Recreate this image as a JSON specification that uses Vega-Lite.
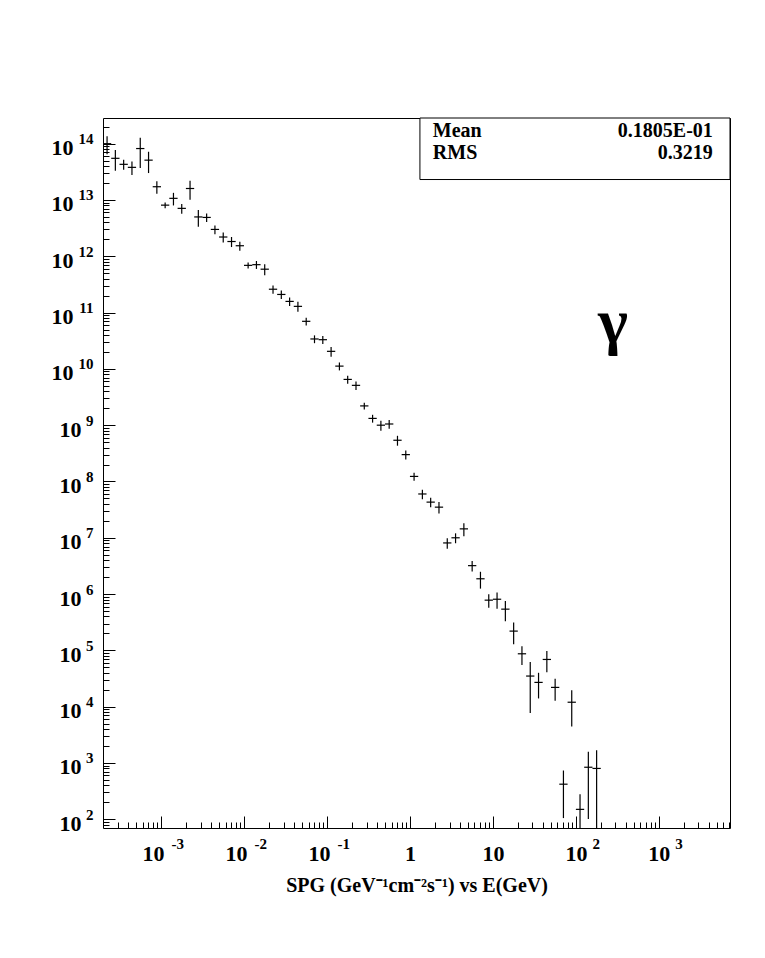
{
  "$schema": "https://vega.github.io/schema/vega-lite/v6.json",
  "width": 627,
  "height": 710,
  "autosize": "none",
  "padding": {"left": 103, "top": 118, "right": 35, "bottom": 130},
  "background": "white",
  "config": {
    "view": {"stroke": "black", "strokeWidth": 1},
    "axis": {"grid": false, "domain": false, "labelFlush": false, "labelOverlap": false, "labelBound": false}
  },
  "datasets": {
    "hist": [
      {"x": 2.239e-4, "xlo": 1.995e-4, "xhi": 2.512e-4, "y": 1.0e14, "ylo": 6.5e13, "yhi": 1.35e14},
      {"x": 2.818e-4, "xlo": 2.512e-4, "xhi": 3.162e-4, "y": 5.5e13, "ylo": 3.3e13, "yhi": 7.7e13},
      {"x": 3.548e-4, "xlo": 3.162e-4, "xhi": 3.981e-4, "y": 4.3e13, "ylo": 3.44e13, "yhi": 5.16e13},
      {"x": 4.467e-4, "xlo": 3.981e-4, "xhi": 5.012e-4, "y": 3.8e13, "ylo": 2.77e13, "yhi": 4.83e13},
      {"x": 5.623e-4, "xlo": 5.012e-4, "xhi": 6.310e-4, "y": 8.2e13, "ylo": 3.69e13, "yhi": 1.27e14},
      {"x": 7.079e-4, "xlo": 6.310e-4, "xhi": 7.943e-4, "y": 5.1e13, "ylo": 3.01e13, "yhi": 7.19e13},
      {"x": 8.913e-4, "xlo": 7.943e-4, "xhi": 1.0e-3, "y": 1.72e13, "ylo": 1.29e13, "yhi": 2.15e13},
      {"x": 1.122e-3, "xlo": 1.0e-3, "xhi": 1.259e-3, "y": 8.1e12, "ylo": 7.13e12, "yhi": 9.07e12},
      {"x": 1.413e-3, "xlo": 1.259e-3, "xhi": 1.585e-3, "y": 1.07e13, "ylo": 8.0e12, "yhi": 1.34e13},
      {"x": 1.778e-3, "xlo": 1.585e-3, "xhi": 1.995e-3, "y": 7.1e12, "ylo": 5.7e12, "yhi": 8.5e12},
      {"x": 2.239e-3, "xlo": 1.995e-3, "xhi": 2.512e-3, "y": 1.6e13, "ylo": 1.01e13, "yhi": 2.19e13},
      {"x": 2.818e-3, "xlo": 2.512e-3, "xhi": 3.162e-3, "y": 5.0e12, "ylo": 3.35e12, "yhi": 6.65e12},
      {"x": 3.548e-3, "xlo": 3.162e-3, "xhi": 3.981e-3, "y": 4.9e12, "ylo": 4.07e12, "yhi": 5.73e12},
      {"x": 4.467e-3, "xlo": 3.981e-3, "xhi": 5.012e-3, "y": 3.0e12, "ylo": 2.46e12, "yhi": 3.54e12},
      {"x": 5.623e-3, "xlo": 5.012e-3, "xhi": 6.310e-3, "y": 2.2e12, "ylo": 1.76e12, "yhi": 2.64e12},
      {"x": 7.079e-3, "xlo": 6.310e-3, "xhi": 7.943e-3, "y": 1.83e12, "ylo": 1.46e12, "yhi": 2.2e12},
      {"x": 8.913e-3, "xlo": 7.943e-3, "xhi": 1.0e-2, "y": 1.54e12, "ylo": 1.26e12, "yhi": 1.82e12},
      {"x": 1.122e-2, "xlo": 1.0e-2, "xhi": 1.259e-2, "y": 6.9e11, "ylo": 6.07e11, "yhi": 7.73e11},
      {"x": 1.413e-2, "xlo": 1.259e-2, "xhi": 1.585e-2, "y": 7.1e11, "ylo": 5.96e11, "yhi": 8.24e11},
      {"x": 1.778e-2, "xlo": 1.585e-2, "xhi": 1.995e-2, "y": 5.9e11, "ylo": 4.6e11, "yhi": 7.2e11},
      {"x": 2.239e-2, "xlo": 1.995e-2, "xhi": 2.512e-2, "y": 2.6e11, "ylo": 2.16e11, "yhi": 3.04e11},
      {"x": 2.818e-2, "xlo": 2.512e-2, "xhi": 3.162e-2, "y": 2.1e11, "ylo": 1.74e11, "yhi": 2.46e11},
      {"x": 3.548e-2, "xlo": 3.162e-2, "xhi": 3.981e-2, "y": 1.58e11, "ylo": 1.31e11, "yhi": 1.85e11},
      {"x": 4.467e-2, "xlo": 3.981e-2, "xhi": 5.012e-2, "y": 1.29e11, "ylo": 1.03e11, "yhi": 1.55e11},
      {"x": 5.623e-2, "xlo": 5.012e-2, "xhi": 6.310e-2, "y": 7.0e10, "ylo": 5.88e10, "yhi": 8.12e10},
      {"x": 7.079e-2, "xlo": 6.310e-2, "xhi": 7.943e-2, "y": 3.4e10, "ylo": 2.86e10, "yhi": 3.94e10},
      {"x": 8.913e-2, "xlo": 7.943e-2, "xhi": 1.0e-1, "y": 3.3e10, "ylo": 2.77e10, "yhi": 3.83e10},
      {"x": 0.1122, "xlo": 0.1, "xhi": 0.1259, "y": 2.05e10, "ylo": 1.64e10, "yhi": 2.46e10},
      {"x": 0.1413, "xlo": 0.1259, "xhi": 0.1585, "y": 1.12e10, "ylo": 9.4e9, "yhi": 1.3e10},
      {"x": 0.1778, "xlo": 0.1585, "xhi": 0.1995, "y": 6.5e9, "ylo": 5.46e9, "yhi": 7.54e9},
      {"x": 0.2239, "xlo": 0.1995, "xhi": 0.2512, "y": 5.1e9, "ylo": 4.23e9, "yhi": 5.97e9},
      {"x": 0.2818, "xlo": 0.2512, "xhi": 0.3162, "y": 2.2e9, "ylo": 1.89e9, "yhi": 2.51e9},
      {"x": 0.3548, "xlo": 0.3162, "xhi": 0.3981, "y": 1.32e9, "ylo": 1.11e9, "yhi": 1.53e9},
      {"x": 0.4467, "xlo": 0.3981, "xhi": 0.5012, "y": 1.0e9, "ylo": 8.0e8, "yhi": 1.2e9},
      {"x": 0.5623, "xlo": 0.5012, "xhi": 0.6310, "y": 1.05e9, "ylo": 8.6e8, "yhi": 1.24e9},
      {"x": 0.7079, "xlo": 0.6310, "xhi": 0.7943, "y": 5.4e8, "ylo": 4.32e8, "yhi": 6.48e8},
      {"x": 0.8913, "xlo": 0.7943, "xhi": 1.0, "y": 3.0e8, "ylo": 2.46e8, "yhi": 3.54e8},
      {"x": 1.122, "xlo": 1.0, "xhi": 1.259, "y": 1.23e8, "ylo": 1.03e8, "yhi": 1.43e8},
      {"x": 1.413, "xlo": 1.259, "xhi": 1.585, "y": 6.0e7, "ylo": 4.86e7, "yhi": 7.14e7},
      {"x": 1.778, "xlo": 1.585, "xhi": 1.995, "y": 4.3e7, "ylo": 3.48e7, "yhi": 5.12e7},
      {"x": 2.239, "xlo": 1.995, "xhi": 2.512, "y": 3.5e7, "ylo": 2.7e7, "yhi": 4.3e7},
      {"x": 2.818, "xlo": 2.512, "xhi": 3.162, "y": 8.1e6, "ylo": 6.4e6, "yhi": 9.8e6},
      {"x": 3.548, "xlo": 3.162, "xhi": 3.981, "y": 1.0e7, "ylo": 8.0e6, "yhi": 1.2e7},
      {"x": 4.467, "xlo": 3.981, "xhi": 5.012, "y": 1.44e7, "ylo": 1.07e7, "yhi": 1.81e7},
      {"x": 5.623, "xlo": 5.012, "xhi": 6.310, "y": 3.2e6, "ylo": 2.53e6, "yhi": 3.87e6},
      {"x": 7.079, "xlo": 6.310, "xhi": 7.943, "y": 1.87e6, "ylo": 1.25e6, "yhi": 2.49e6},
      {"x": 8.913, "xlo": 7.943, "xhi": 10.0, "y": 7.8e5, "ylo": 5.7e5, "yhi": 9.9e5},
      {"x": 11.22, "xlo": 10.0, "xhi": 12.59, "y": 8.1e5, "ylo": 5.5e5, "yhi": 1.07e6},
      {"x": 14.13, "xlo": 12.59, "xhi": 15.85, "y": 5.4e5, "ylo": 3.29e5, "yhi": 7.51e5},
      {"x": 17.78, "xlo": 15.85, "xhi": 19.95, "y": 2.2e5, "ylo": 1.28e5, "yhi": 3.12e5},
      {"x": 22.39, "xlo": 19.95, "xhi": 25.12, "y": 8.7e4, "ylo": 5.5e4, "yhi": 1.19e5},
      {"x": 28.18, "xlo": 25.12, "xhi": 31.62, "y": 3.5e4, "ylo": 7.7e3, "yhi": 6.23e4},
      {"x": 35.48, "xlo": 31.62, "xhi": 39.81, "y": 2.7e4, "ylo": 1.4e4, "yhi": 4.0e4},
      {"x": 44.67, "xlo": 39.81, "xhi": 50.12, "y": 6.9e4, "ylo": 4.07e4, "yhi": 9.73e4},
      {"x": 56.23, "xlo": 50.12, "xhi": 63.10, "y": 2.2e4, "ylo": 1.28e4, "yhi": 3.12e4},
      {"x": 70.79, "xlo": 63.10, "xhi": 79.43, "y": 420, "ylo": 105, "yhi": 735},
      {"x": 89.13, "xlo": 79.43, "xhi": 100.0, "y": 1.2e4, "ylo": 4.44e3, "yhi": 1.96e4},
      {"x": 112.2, "xlo": 100.0, "xhi": 125.9, "y": 150, "ylo": 22.5, "yhi": 277},
      {"x": 141.3, "xlo": 125.9, "xhi": 158.5, "y": 840, "ylo": 101, "yhi": 1579},
      {"x": 177.8, "xlo": 158.5, "xhi": 199.5, "y": 800, "ylo": 1, "yhi": 1680}
    ],
    "box": [{"x1": 1.32, "x2": 7200, "y1": 2.31e13, "y2": 2.86e14}],
    "stats": [
      {"label": "Mean", "value": "0.1805E-01", "xl": 1.89, "xv": 4475, "yv": 1.68e14},
      {"label": "RMS", "value": "0.3219", "xl": 1.89, "xv": 4475, "yv": 6.84e13}
    ],
    "sym": [{"name": "γ", "xs": 279, "ys": 6.5e10}]
  },
  "resolve": {"axis": {"x": "independent", "y": "independent"}},
  "layer": [
    {
      "data": {"name": "hist"},
      "mark": {"type": "rule", "color": "black", "strokeWidth": 1.2, "clip": true},
      "encoding": {
        "x": {"field": "xlo", "type": "quantitative",
          "scale": {"type": "log", "domain": [0.0002, 7200], "nice": false},
          "axis": {"orient": "bottom", "values": [0.001, 0.01, 0.1, 1, 10, 100, 1000], "labels": false, "tickSize": -12, "tickColor": "black", "tickWidth": 1, "title": null}},
        "x2": {"field": "xhi"},
        "y": {"field": "y", "type": "quantitative",
          "scale": {"type": "log", "domain": [70, 2.86e14], "nice": false},
          "axis": {"orient": "left", "values": [100, 1e3, 1e4, 1e5, 1e6, 1e7, 1e8, 1e9, 1e10, 1e11, 1e12, 1e13, 1e14], "labels": false, "tickSize": -12, "tickColor": "black", "tickWidth": 1, "title": null}}
      }
    },
    {
      "data": {"name": "hist"},
      "mark": {"type": "rule", "color": "black", "strokeWidth": 1.2, "clip": true},
      "encoding": {
        "x": {"field": "x", "type": "quantitative",
          "scale": {"type": "log", "domain": [0.0002, 7200], "nice": false},
          "axis": {"orient": "bottom", "values": [0.0003, 0.0004, 0.0005, 0.0006, 0.0007, 0.0008, 0.0009, 0.002, 0.003, 0.004, 0.005, 0.006, 0.007, 0.008, 0.009, 0.02, 0.03, 0.04, 0.05, 0.06, 0.07, 0.08, 0.09, 0.2, 0.3, 0.4, 0.5, 0.6, 0.7, 0.8, 0.9, 2, 3, 4, 5, 6, 7, 8, 9, 20, 30, 40, 50, 60, 70, 80, 90, 200, 300, 400, 500, 600, 700, 800, 900, 2000, 3000, 4000, 5000, 6000, 7000], "labels": false, "tickSize": -6, "tickColor": "black", "tickWidth": 1, "title": null}},
        "y": {"field": "ylo", "type": "quantitative",
          "scale": {"type": "log", "domain": [70, 2.86e14], "nice": false},
          "axis": {"orient": "left", "values": [80, 90, 200, 300, 400, 500, 600, 700, 800, 900, 2e3, 3e3, 4e3, 5e3, 6e3, 7e3, 8e3, 9e3, 2e4, 3e4, 4e4, 5e4, 6e4, 7e4, 8e4, 9e4, 2e5, 3e5, 4e5, 5e5, 6e5, 7e5, 8e5, 9e5, 2e6, 3e6, 4e6, 5e6, 6e6, 7e6, 8e6, 9e6, 2e7, 3e7, 4e7, 5e7, 6e7, 7e7, 8e7, 9e7, 2e8, 3e8, 4e8, 5e8, 6e8, 7e8, 8e8, 9e8, 2e9, 3e9, 4e9, 5e9, 6e9, 7e9, 8e9, 9e9, 2e10, 3e10, 4e10, 5e10, 6e10, 7e10, 8e10, 9e10, 2e11, 3e11, 4e11, 5e11, 6e11, 7e11, 8e11, 9e11, 2e12, 3e12, 4e12, 5e12, 6e12, 7e12, 8e12, 9e12, 2e13, 3e13, 4e13, 5e13, 6e13, 7e13, 8e13, 9e13, 2e14], "labels": false, "tickSize": -6, "tickColor": "black", "tickWidth": 1, "title": null}},
        "y2": {"field": "yhi"}
      }
    },
    {
      "data": {"name": "box"},
      "mark": {"type": "rect", "fill": "white", "stroke": "black", "strokeWidth": 1},
      "encoding": {
        "x": {"field": "x1", "type": "quantitative",
          "scale": {"type": "log", "domain": [0.0002, 7200], "nice": false},
          "axis": {"orient": "bottom", "values": [0.001, 0.01, 0.1, 1, 10, 100, 1000], "ticks": false, "tickSize": 0,
            "labelExpr": "datum.value == 1 ? '1' : '10'",
            "labelFont": "Liberation Serif, Times New Roman, serif", "labelFontWeight": "bold", "labelFontSize": 22, "labelColor": "black",
            "labelAlign": "center", "labelBaseline": "top", "labelPadding": 15,
            "labelOffset": {"condition": {"test": "datum.value < 1", "value": -8}, "value": 0},
            "title": "SPG (GeV⁻¹cm⁻²s⁻¹) vs E(GeV)",
            "titleFont": "Liberation Serif, Times New Roman, serif", "titleFontWeight": "bold", "titleFontSize": 20, "titleColor": "black", "titlePadding": 11}},
        "x2": {"field": "x2"},
        "y": {"field": "y1", "type": "quantitative",
          "scale": {"type": "log", "domain": [70, 2.86e14], "nice": false},
          "axis": {"orient": "left", "values": [100, 1e3, 1e4, 1e5, 1e6, 1e7, 1e8, 1e9, 1e10, 1e11, 1e12, 1e13, 1e14], "ticks": false, "tickSize": 0,
            "labelExpr": "'10'",
            "labelFont": "Liberation Serif, Times New Roman, serif", "labelFontWeight": "bold", "labelFontSize": 22, "labelColor": "black",
            "labelAlign": "right", "labelBaseline": "middle", "labelOffset": 4,
            "labelPadding": {"condition": {"test": "datum.value >= 1e10", "value": 30}, "value": 22},
            "title": null}},
        "y2": {"field": "y2"}
      }
    },
    {
      "data": {"name": "stats"},
      "mark": {"type": "text", "font": "Liberation Serif, Times New Roman, serif", "fontWeight": "bold", "fontSize": 20, "align": "left", "baseline": "middle", "color": "black"},
      "encoding": {
        "x": {"field": "xl", "type": "quantitative",
          "scale": {"type": "log", "domain": [0.0002, 7200], "nice": false},
          "axis": {"orient": "bottom", "values": [0.001, 0.01, 0.1, 100, 1000], "ticks": false, "tickSize": 0,
            "labelExpr": "'' + round(log(datum.value) / LN10)",
            "labelFont": "Liberation Serif, Times New Roman, serif", "labelFontWeight": "bold", "labelFontSize": 15, "labelColor": "black",
            "labelAlign": "left", "labelBaseline": "top", "labelPadding": 8,
            "labelOffset": {"condition": {"test": "datum.value < 1", "value": 10}, "value": 16},
            "title": null}},
        "y": {"field": "yv", "type": "quantitative",
          "scale": {"type": "log", "domain": [70, 2.86e14], "nice": false},
          "axis": {"orient": "left", "values": [100, 1e3, 1e4, 1e5, 1e6, 1e7, 1e8, 1e9, 1e10, 1e11, 1e12, 1e13, 1e14], "ticks": false, "tickSize": 0,
            "labelExpr": "'' + round(log(datum.value) / LN10)",
            "labelFont": "Liberation Serif, Times New Roman, serif", "labelFontWeight": "bold", "labelFontSize": 15, "labelColor": "black",
            "labelAlign": "right", "labelBaseline": "middle", "labelOffset": -5, "labelPadding": 10,
            "title": null}},
        "text": {"field": "label"}
      }
    },
    {
      "data": {"name": "stats"},
      "mark": {"type": "text", "font": "Liberation Serif, Times New Roman, serif", "fontWeight": "bold", "fontSize": 20, "align": "right", "baseline": "middle", "color": "black"},
      "encoding": {
        "x": {"field": "xv", "type": "quantitative", "scale": {"type": "log", "domain": [0.0002, 7200], "nice": false}, "axis": null},
        "y": {"field": "yv", "type": "quantitative", "scale": {"type": "log", "domain": [70, 2.86e14], "nice": false}, "axis": null},
        "text": {"field": "value"}
      }
    },
    {
      "data": {"name": "sym"},
      "mark": {"type": "text", "font": "Liberation Serif, Times New Roman, serif", "fontWeight": "bold", "fontSize": 64, "align": "center", "baseline": "middle", "color": "black"},
      "encoding": {
        "x": {"field": "xs", "type": "quantitative", "scale": {"type": "log", "domain": [0.0002, 7200], "nice": false}, "axis": null},
        "y": {"field": "ys", "type": "quantitative", "scale": {"type": "log", "domain": [70, 2.86e14], "nice": false}, "axis": null},
        "text": {"field": "name"}
      }
    }
  ]
}
